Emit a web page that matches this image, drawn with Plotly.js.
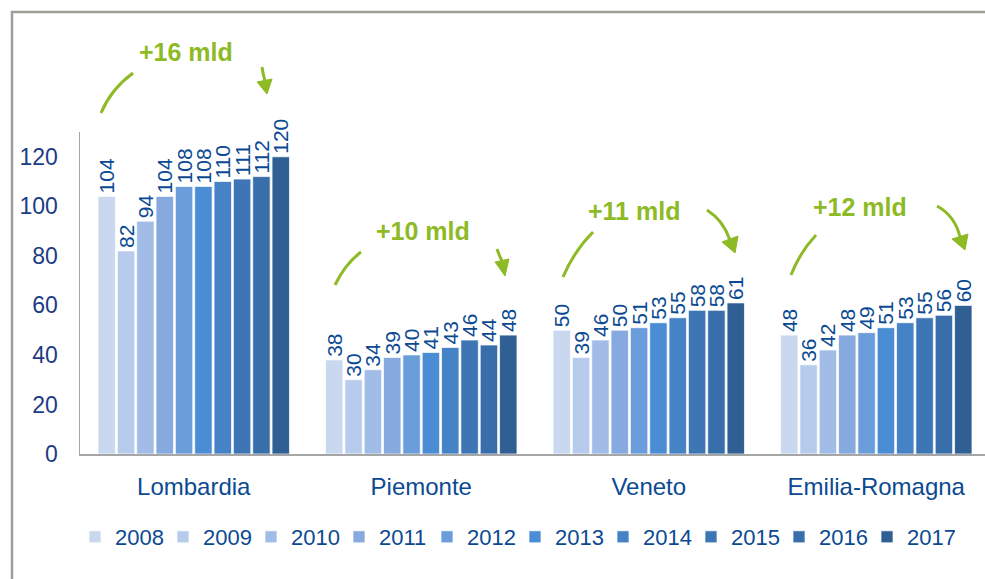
<!DOCTYPE html>
<html>
<head>
<meta charset="utf-8">
<script src="https://cdn.plot.ly/plotly-3.0.1.min.js"></script>
<style>
  html, body { margin: 0; padding: 0; background: #ffffff; }
  #chart { width: 985px; height: 579px; }
</style>
</head>
<body>
<div id="chart"></div>
<script>
// ---- Data ----
const regions = ["Lombardia", "Piemonte", "Veneto", "Emilia-Romagna"];
const years = ["2008", "2009", "2010", "2011", "2012", "2013", "2014", "2015", "2016", "2017"];
const lombardia = [104, 82, 94, 104, 108, 108, 110, 111, 112, 120];
const piemonte = [38, 30, 34, 39, 40, 41, 43, 46, 44, 48];
const veneto = [50, 39, 46, 50, 51, 53, 55, 58, 58, 61];
const emilia = [48, 36, 42, 48, 49, 51, 53, 55, 56, 60];
const growthLabels = ["+16 mld", "+10 mld", "+11 mld", "+12 mld"];
const yTicks = [0, 20, 40, 60, 80, 100, 120];

const yearColors = ["#C9D8EF", "#B7CCEC", "#A1BCE6", "#86A9DF", "#6B9DDB",
                    "#4B8DD4", "#4682C6", "#3E75B4", "#386EA9", "#305F93"];

const seriesByRegion = [lombardia, piemonte, veneto, emilia];

const traces = years.map((yr, i) => {
  const vals = seriesByRegion.map(r => r[i]);
  return {
    type: "bar",
    name: yr,
    x: regions,
    y: vals,
    text: vals.map(v => String(v)),
    textposition: "outside",
    textangle: -90,
    constraintext: "none",
    cliponaxis: false,
    textfont: { family: "Liberation Sans, Arial, sans-serif", size: 21, color: "#0B4A92" },
    marker: { color: yearColors[i], line: { color: "rgba(255,255,255,0.7)", width: 1 } },
    hoverinfo: "skip"
  };
});

// ---- Layout helpers (pixel -> paper) ----
const L = 80, R = 985, T = 132, B = 454;
const W = R - L, H = B - T;
const px = x => (x - L) / W;
const py = y => (B - y) / H;
const pt = (x, y) => px(x).toFixed(4) + "," + py(y).toFixed(4);

const green = "#8DBA25";

const curves = [
  [[101, 113], [111, 89], [133, 73]],
  [[335, 285], [345, 264], [361, 252]],
  [[563, 277], [574, 251], [593, 232]],
  [[791, 275], [800, 252], [816, 235]],
  [[262, 67], [263, 74], [265, 81]],
  [[497, 249], [499, 255], [502, 261]],
  [[707, 210], [723, 220], [730, 240]],
  [[937, 206], [955, 216], [960, 237]]
];
const heads = [
  [[267, 94], [257, 82], [272, 79]],
  [[505, 276], [495, 262], [509, 259]],
  [[735, 253], [722, 242], [738, 236]],
  [[965, 250], [952, 239], [968, 234]]
];

const shapes = [];
shapes.push({
  type: "rect", xref: "paper", yref: "paper", layer: "below",
  x0: px(12), x1: px(1010), y0: py(12), y1: py(600),
  line: { color: "#9D9E96", width: 2.5 }, fillcolor: "rgba(0,0,0,0)"
});
curves.forEach(c => {
  shapes.push({
    type: "path", xref: "paper", yref: "paper",
    path: "M" + pt(c[0][0], c[0][1]) + " Q" + pt(c[1][0], c[1][1]) + " " + pt(c[2][0], c[2][1]),
    line: { color: green, width: 3 }
  });
});
heads.forEach(h => {
  shapes.push({
    type: "path", xref: "paper", yref: "paper",
    path: "M" + pt(h[0][0], h[0][1]) + " L" + pt(h[1][0], h[1][1]) + " L" + pt(h[2][0], h[2][1]) + " Z",
    line: { color: green, width: 1 }, fillcolor: green
  });
});

const labelPos = [[186, 52], [423, 231], [634, 211], [860, 207]];
const annotations = growthLabels.map((t, i) => ({
  text: "<b>" + t + "</b>",
  xref: "paper", yref: "paper",
  x: px(labelPos[i][0]), y: py(labelPos[i][1]),
  xanchor: "center", yanchor: "middle",
  showarrow: false,
  font: { family: "Liberation Sans, Arial, sans-serif", size: 25, color: green }
}));

const layout = {
  width: 985, height: 579,
  margin: { l: L, r: 0, t: T, b: 579 - B, pad: 0 },
  paper_bgcolor: "#ffffff",
  plot_bgcolor: "#ffffff",
  font: { family: "Liberation Sans, Arial, sans-serif", color: "#0B4A92" },
  barmode: "group",
  bargap: 0.15,
  bargroupgap: 0.1,
  showlegend: true,
  legend: {
    orientation: "h",
    x: px(515), xanchor: "center",
    y: py(537), yanchor: "middle",
    font: { size: 22, color: "#0B4A92" },
    entrywidth: 43,
    entrywidthmode: "pixels",
    traceorder: "normal"
  },
  xaxis: {
    type: "category",
    range: [-0.5, 3.478],
    showline: true, linecolor: "#A6A6A6", linewidth: 1.5,
    showgrid: false, zeroline: false,
    ticks: "",
    ticklabelstandoff: 11,
    tickfont: { size: 24, color: "#0B4A92" },
    fixedrange: true
  },
  yaxis: {
    range: [0, 130],
    tickvals: yTicks,
    ticktext: yTicks.map(String),
    showline: true, linecolor: "#A6A6A6", linewidth: 1.5,
    showgrid: false, zeroline: false,
    ticks: "",
    ticklabelstandoff: 16,
    tickfont: { size: 23, color: "#1B3C84" },
    fixedrange: true
  },
  shapes: shapes,
  annotations: annotations
};

Plotly.newPlot("chart", traces, layout, { displayModeBar: false, staticPlot: true });
</script>
</body>
</html>
